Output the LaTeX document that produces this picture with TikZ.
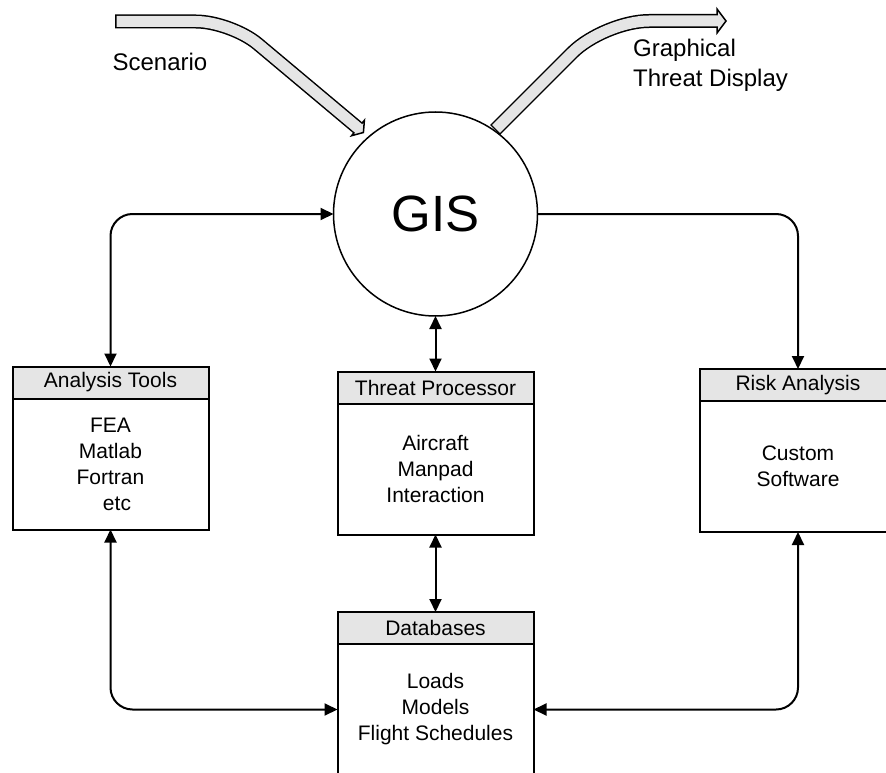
\documentclass[tikz,border=0pt]{standalone}
\usepackage{fontspec}
\setmainfont{Liberation Sans}
\usetikzlibrary{arrows.meta,positioning}
\tikzset{
  boxhead/.style={draw,line width=2pt,fill=gray!20,minimum width=196pt,minimum height=32pt,inner sep=0pt,outer sep=0pt},
  boxbody/.style={draw,line width=2pt,minimum width=196pt,minimum height=131pt,align=center,inner sep=0pt,outer sep=0pt},
  gisnode/.style={circle,draw,line width=1.5pt,minimum size=204pt,inner sep=0pt,outer sep=0pt,font=\fontsize{51}{60}\selectfont},
  flowtext/.style={font=\fontsize{24}{30}\selectfont,inner sep=0pt},
  link/.style={line width=2pt,rounded corners=22pt},
  fatedge/.style={line width=14pt,draw=black},
  fatcore/.style={line width=11pt,draw=gray!20,shorten <=1.5pt},
  fathead/.style={fill=gray!20,draw=black,line width=1.5pt,line join=miter},
}
\begin{document}
\begin{tikzpicture}[x=1pt,y=-1pt,font=\fontsize{21}{26}\selectfont,>={Triangle[length=13pt,width=12pt]}]
\clip (0,0) rectangle (886,773);
\node[gisnode] (gis) at (435.5,214) {GIS};
\node[boxhead] (toolshead) at (110.5,382.5) {Analysis Tools};
\node[boxbody,below=0pt of toolshead] (toolsbody) {FEA\\Matlab\\Fortran\\\hspace{13pt}etc};
\node[boxhead] (threathead) at (435.5,387.5) {Threat Processor};
\node[boxbody,below=0pt of threathead] (threatbody) {Aircraft\\Manpad\\Interaction};
\node[boxhead] (riskhead) at (798,385) {Risk Analysis};
\node[boxbody,below=0pt of riskhead] (riskbody) {Custom\\Software};
\node[boxhead] (dbhead) at (435.5,628) {Databases};
\node[boxbody,below=0pt of dbhead] (dbbody) {Loads\\Models\\Flight Schedules};
\draw[link,<->] (toolshead.north) |- (gis.west);
\draw[link,->] (gis.east) -| (riskhead.north);
\draw[link,<->] (gis.south) -- (threathead.north);
\draw[link,<->] (threatbody.south) -- (dbhead.north);
\draw[link,<->] (toolsbody.south) |- (dbbody.west);
\draw[link,<->] (riskbody.south) |- (dbbody.east);
\node[flowtext] (scenario) at (160,62) {Scenario};
\node[flowtext,anchor=west,align=left] (display) at (633,65) {Graphical\\Threat Display};
% wide input and output arrows
\coordinate (scenA) at (115,21.5);
\coordinate (scenK) at (231,21.5);
\coordinate (scenB) at (358,128);
\coordinate (scenC) at (359.2,129);
\draw[fatedge,rounded corners=35pt] (scenA) -- (scenK) -- (scenB);
\draw[fathead] (351.6,135.7) -- (363.4,132.5) -- (364.4,120.3) -- cycle;
\draw[fatcore,rounded corners=35pt] (scenA) -- (scenK) -- (scenC);
\coordinate (dispA) at (495,130);
\coordinate (dispK) at (604,21);
\coordinate (dispB) at (717,21);
\coordinate (dispC) at (718.5,21);
\draw[fatedge,rounded corners=45pt] (dispA) -- (dispK) -- (dispB);
\draw[fathead] (717,9) -- (726,21) -- (717,33) -- cycle;
\draw[fatcore,rounded corners=45pt] (dispA) -- (dispK) -- (dispC);
\end{tikzpicture}
\end{document}
